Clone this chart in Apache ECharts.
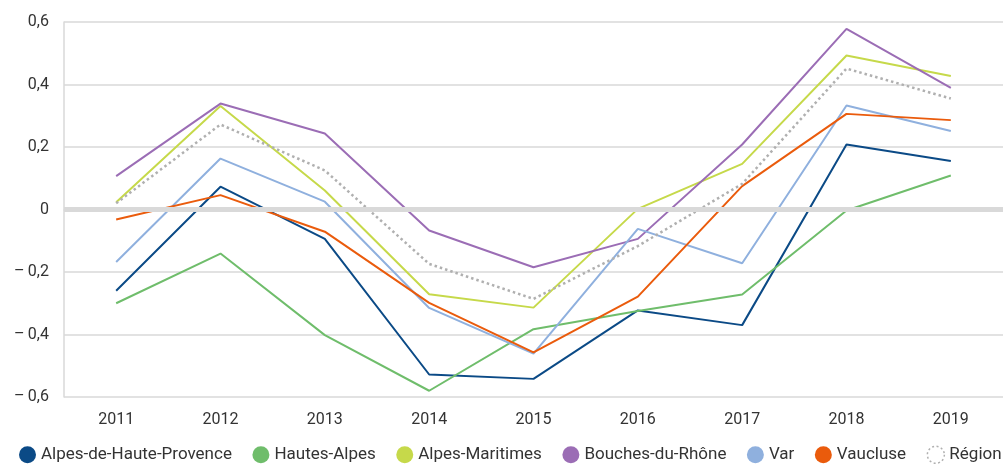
<!DOCTYPE html>
<html>
<head>
<meta charset="utf-8">
<script src="https://cdn.jsdelivr.net/npm/echarts@6/dist/echarts.min.js"></script>
<style>
  html, body { margin: 0; padding: 0; background: #fff; }
  #chart { width: 1003px; height: 470px; }
</style>
</head>
<body>
<div id="chart"></div>
<script>
const years = ['2011', '2012', '2013', '2014', '2015', '2016', '2017', '2018', '2019']
const yTickLabels = ['\u2013\u20090,6', '\u2013\u20090,4', '\u2013\u20090,2', '0', '0,2', '0,4', '0,6']

const alpesHauteProvence = [-0.26, 0.073, -0.094, -0.528, -0.542, -0.323, -0.37, 0.208, 0.155]
const hautesAlpes = [-0.30, -0.141, -0.402, -0.58, -0.383, -0.325, -0.272, -0.003, 0.109]
const alpesMaritimes = [0.023, 0.331, 0.061, -0.271, -0.314, 0.002, 0.146, 0.493, 0.427]
const bouchesDuRhone = [0.107, 0.339, 0.243, -0.067, -0.185, -0.094, 0.208, 0.578, 0.389]
const varDep = [-0.168, 0.163, 0.025, -0.315, -0.461, -0.062, -0.172, 0.333, 0.251]
const vaucluse = [-0.032, 0.046, -0.071, -0.299, -0.457, -0.279, 0.075, 0.306, 0.286]
const region = [0.02, 0.272, 0.125, -0.174, -0.286, -0.117, 0.082, 0.451, 0.355]

const chart = echarts.init(document.getElementById('chart'))

function line(name, data, color, dotted) {
  return {
    name: name,
    type: 'line',
    data: data,
    symbol: 'none',
    z: 3,
    lineStyle: {
      color: color,
      width: dotted ? 2.5 : 2,
      type: dotted ? [2.5, 3] : 'solid'
    },
    itemStyle: { color: color }
  }
}

chart.setOption({
  animation: false,
  grid: { left: 64, right: 0, top: 22, bottom: 73 },
  legend: {
    left: 14,
    bottom: 1,
    width: 1200, // keep everything on one row, like the original
    icon: 'circle',
    itemWidth: 17,
    itemHeight: 17,
    itemGap: 20.5,
    textStyle: { fontFamily: 'Roboto, sans-serif', fontSize: 17, color: '#333' },
    data: [
      'Alpes-de-Haute-Provence', 'Hautes-Alpes', 'Alpes-Maritimes', 'Bouches-du-Rhône', 'Var', 'Vaucluse',
      { name: 'Région', itemStyle: { color: '#fff', borderColor: '#b0b0b0', borderWidth: 1.5, borderType: [2, 2.5] } }
    ]
  },
  xAxis: {
    type: 'category',
    data: years,
    boundaryGap: true,
    axisLine: { show: true, lineStyle: { color: '#d9d9d9', width: 1.5 } },
    axisTick: { show: false },
    axisLabel: { color: '#333', fontSize: 16, fontFamily: 'Roboto, sans-serif', margin: 15 }
  },
  yAxis: {
    type: 'value',
    min: -0.6,
    max: 0.6,
    interval: 0.2,
    axisLine: { show: true, lineStyle: { color: '#d9d9d9', width: 1.5 } },
    axisTick: { show: false },
    splitLine: { lineStyle: { color: '#d9d9d9', width: 1.5 } },
    axisLabel: {
      color: '#333',
      fontSize: 16,
      fontFamily: 'Roboto, sans-serif',
      margin: 15,
      formatter: function (v) {
        return yTickLabels[Math.round((v + 0.6) / 0.2)]
      }
    }
  },
  series: [
    {
      name: 'zero',
      type: 'line',
      data: [],
      z: 1,
      silent: true,
      markLine: {
        silent: true,
        symbol: 'none',
        label: { show: false },
        lineStyle: { color: '#d9d9d9', width: 5, type: 'solid' },
        data: [{ yAxis: 0 }]
      }
    },
    line('Alpes-de-Haute-Provence', alpesHauteProvence, '#0b4a86'),
    line('Hautes-Alpes', hautesAlpes, '#6fbd6b'),
    line('Alpes-Maritimes', alpesMaritimes, '#c6d94a'),
    line('Bouches-du-Rhône', bouchesDuRhone, '#9b6db5'),
    line('Var', varDep, '#8fb0de'),
    line('Vaucluse', vaucluse, '#ea5b0c'),
    line('Région', region, '#b0b0b0', true)
  ]
})
</script>
</body>
</html>
